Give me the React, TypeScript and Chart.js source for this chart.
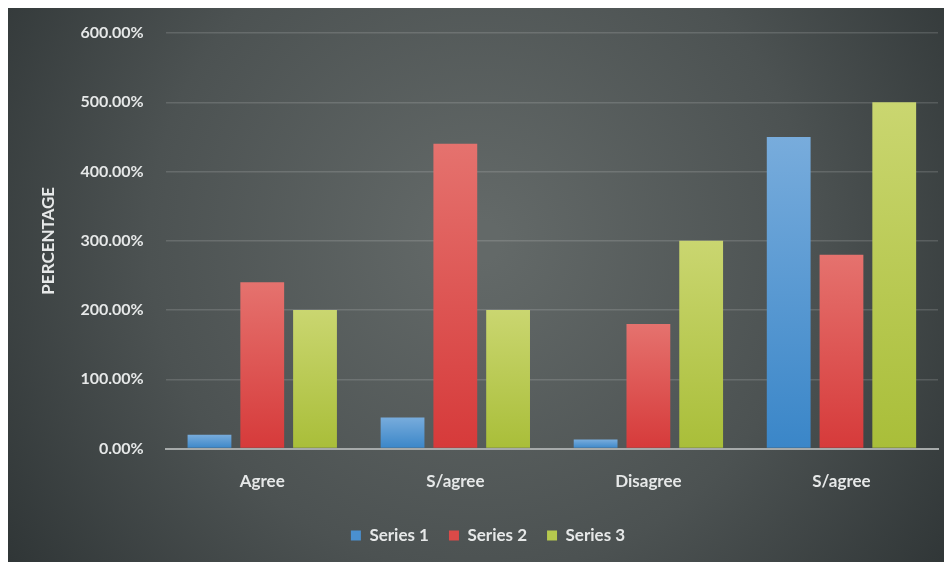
import React, { useEffect, useRef } from "react";
import { Chart, registerables } from "chart.js";

Chart.register(...registerables);

const categories = ["Agree", "S/agree", "Disagree", "S/agree"];
const series1 = [20, 45, 13, 450];
const series2 = [240, 440, 180, 280];
const series3 = [200, 200, 300, 500];
const seriesNames = ["Series 1", "Series 2", "Series 3"];
const yTicks = [0, 100, 200, 300, 400, 500, 600];

const FONT = "Lato, 'Open Sans', sans-serif";
const TEXT = "#e6e8e8";

const bgPlugin = {
  id: "bgRadial",
  beforeDraw(chart: any) {
    const { ctx, width, height } = chart;
    ctx.save();
    const g = ctx.createRadialGradient(width * 0.5, height * 0.42, 20, width * 0.5, height * 0.42, width * 0.62);
    g.addColorStop(0, "#636968");
    g.addColorStop(0.55, "#4c5252");
    g.addColorStop(1, "#2e3435");
    ctx.fillStyle = g;
    ctx.fillRect(0, 0, width, height);
    ctx.restore();
  },
};

function barGradient(top: string, bottom: string) {
  return (context: any) => {
    const chart = context.chart;
    const { ctx, chartArea, scales } = chart;
    if (!chartArea || !scales || !scales.y || context.type !== "data") return bottom;
    const v = context.raw as number;
    const y0 = scales.y.getPixelForValue(0);
    const y1 = scales.y.getPixelForValue(v);
    if (!isFinite(y0) || !isFinite(y1) || Math.abs(y0 - y1) < 1) return top;
    const g = ctx.createLinearGradient(0, y1, 0, y0);
    g.addColorStop(0, top);
    g.addColorStop(1, bottom);
    return g;
  };
}

export default function App() {
  const ref = useRef<HTMLCanvasElement | null>(null);
  useEffect(() => {
    document.body.style.overflow = "hidden";
    document.body.style.marginBottom = "0px";
    if (!ref.current) return;
    const chart = new Chart(ref.current, {
      type: "bar",
      data: {
        labels: categories,
        datasets: [
          { label: seriesNames[0], data: series1, backgroundColor: barGradient("#78acdc", "#3a86c8") as any, categoryPercentage: 0.82, barPercentage: 0.83 },
          { label: seriesNames[1], data: series2, backgroundColor: barGradient("#e5726e", "#d63a3a") as any, categoryPercentage: 0.82, barPercentage: 0.83 },
          { label: seriesNames[2], data: series3, backgroundColor: barGradient("#cad670", "#a9be39") as any, categoryPercentage: 0.82, barPercentage: 0.83 },
        ],
      },
      options: {
        responsive: false,
        maintainAspectRatio: false,
        animation: false,
        layout: { padding: { left: 30, right: 14, top: 25, bottom: 8 } },
        plugins: {
          tooltip: { enabled: false },
          legend: {
            position: "bottom",
            labels: {
              color: TEXT,
              font: { family: FONT, size: 17, weight: "bold" },
              boxWidth: 10,
              boxHeight: 10,
              padding: 20,
              generateLabels(chart: any) {
                const cols = ["#4a90d0", "#db4a48", "#b6c94e"];
                return chart.data.datasets.map((d: any, i: number) => ({
                  text: d.label,
                  fillStyle: cols[i],
                  strokeStyle: cols[i],
                  lineWidth: 0,
                  fontColor: TEXT,
                  hidden: false,
                  datasetIndex: i,
                }));
              },
            },
          },
        },
        scales: {
          x: {
            grid: { display: false },
            border: { display: true, color: "#a6aaaa", width: 2 },
            ticks: { color: TEXT, font: { family: FONT, size: 17, weight: "bold" }, padding: 15 },
          },
          y: {
            min: 0,
            max: 600,
            afterBuildTicks(scale: any) {
              scale.ticks = yTicks.map((v) => ({ value: v }));
            },
            afterFit(scale: any) {
              scale.paddingTop = 0;
              scale.paddingBottom = 0;
            },
            grid: { color: "rgba(255,255,255,0.14)", lineWidth: 1.5, drawTicks: false },
            border: { display: false },
            ticks: {
              color: TEXT,
              font: { family: FONT, size: 16, weight: "bold" },
              padding: 22,
              callback: (v: any) => Number(v).toFixed(2) + "%",
            },
            title: {
              display: true,
              text: "PERCENTAGE",
              color: TEXT,
              font: { family: FONT, size: 17, weight: "bold" },
              padding: { top: 0, bottom: 0 },
            },
          },
        },
      },
      plugins: [bgPlugin],
    });
    return () => chart.destroy();
  }, []);
  return (
    <div style={{ width: 944, height: 554 }}>
      <canvas ref={ref} width={944} height={554} style={{ display: "block", width: 944, height: 554 }} />
    </div>
  );
}
